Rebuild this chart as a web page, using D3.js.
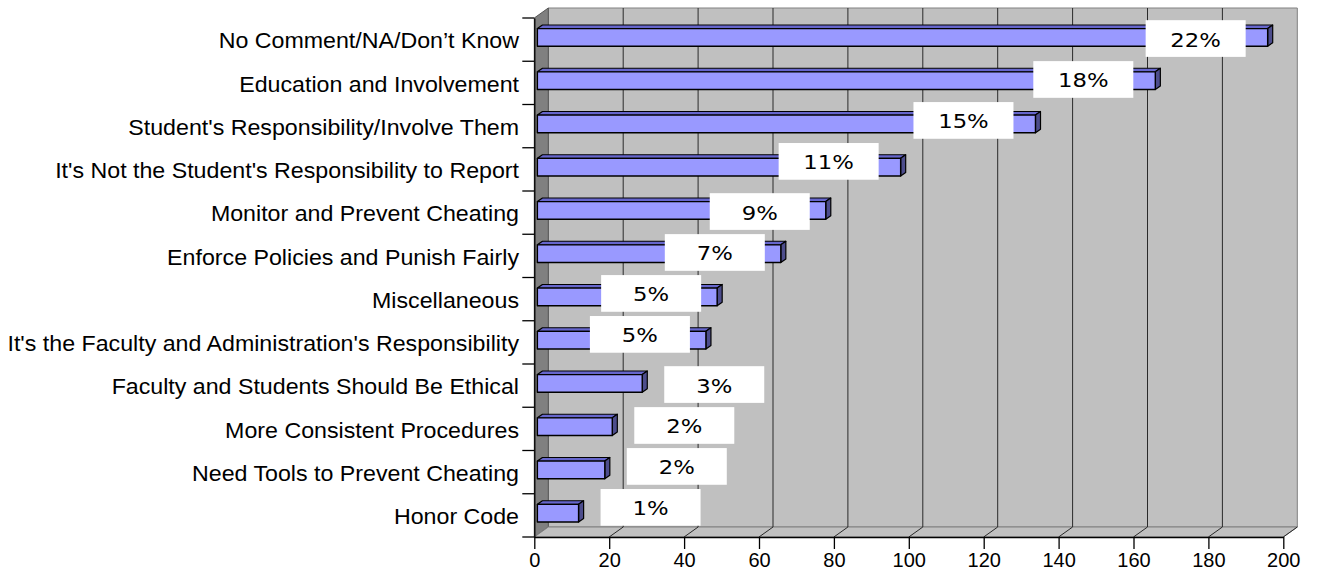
<!DOCTYPE html>
<html>
<head>
<meta charset="utf-8">
<script src="https://cdn.jsdelivr.net/npm/d3@7"></script>
<style>
  html, body { margin: 0; padding: 0; background: #ffffff; }
  svg { display: block; }
</style>
</head>
<body>
<svg id="chart" width="1317" height="575"></svg>
<script>
// ---- data ----
const categories = [
  "No Comment/NA/Don\u2019t Know",
  "Education and Involvement",
  "Student's Responsibility/Involve Them",
  "It's Not the Student's Responsibility to Report",
  "Monitor and Prevent Cheating",
  "Enforce Policies and Punish Fairly",
  "Miscellaneous",
  "It's the Faculty and Administration's Responsibility",
  "Faculty and Students Should Be Ethical",
  "More Consistent Procedures",
  "Need Tools to Prevent Cheating",
  "Honor Code"
];
const values = [195, 165, 133, 97, 77, 65, 48, 45, 28, 20, 18, 11];
const percentLabels = ["22%", "18%", "15%", "11%", "9%", "7%", "5%", "5%", "3%", "2%", "2%", "1%"];
const xTickValues = [0, 20, 40, 60, 80, 100, 120, 140, 160, 180, 200];

(function () {
// ---- layout ----
const svg = d3.select("#chart");
const depthX = 14, depthY = -10;           // wall depth projection
const x = d3.scaleLinear().domain([0, 200]).range([534.3, 1283.3]);
const y = d3.scaleBand().domain(categories).range([18, 537]).paddingInner(0).paddingOuter(0);
const yTop = y.range()[0], yBottom = y.range()[1];
const proj = (px, py, d) => [px + depthX * d, py + depthY * d];

const x0 = x(0), x1 = x(200);

// back wall
svg.append("polygon")
  .attr("points", [proj(x0, yTop, 1), proj(x1, yTop, 1), proj(x1, yBottom, 1), proj(x0, yBottom, 1)].join(" "))
  .attr("fill", "#c0c0c0").attr("stroke", "#808080").attr("stroke-width", 1);
// left wall
svg.append("polygon")
  .attr("points", [[x0, yTop], proj(x0, yTop, 1), proj(x0, yBottom, 1), [x0, yBottom]].join(" "))
  .attr("fill", "#808080").attr("stroke", "#555555").attr("stroke-width", 1);
// floor
svg.append("polygon")
  .attr("points", [[x0, yBottom], proj(x0, yBottom, 1), proj(x1, yBottom, 1), [x1, yBottom]].join(" "))
  .attr("fill", "#c0c0c0").attr("stroke", "#808080").attr("stroke-width", 1);

// gridlines on back wall and floor
const gridG = svg.append("g");
xTickValues.filter(v => v > 0 && v < 200).forEach(v => {
  const [bx, by0] = proj(x(v), yTop, 1);
  const [, by1] = proj(x(v), yBottom, 1);
  gridG.append("line").attr("x1", bx).attr("x2", bx).attr("y1", by0).attr("y2", by1)
    .attr("stroke", "#2a2a2a").attr("stroke-width", 1);
});
xTickValues.filter(v => v > 0).forEach(v => {
  const [bx, by] = proj(x(v), yBottom, 1);
  gridG.append("line").attr("x1", bx).attr("y1", by).attr("x2", x(v)).attr("y2", yBottom)
    .attr("stroke", "#2a2a2a").attr("stroke-width", 1);
});

// bottom axis
const xAxis = d3.axisBottom(x).tickValues(xTickValues).tickSize(12).tickSizeOuter(0).tickPadding(4);
const gx = svg.append("g").attr("transform", `translate(0,${yBottom})`).call(xAxis);
gx.select(".domain").attr("stroke", "#000").attr("stroke-width", 1.3);
gx.selectAll(".tick line").attr("stroke", "#000").attr("stroke-width", 1.3);
gx.selectAll(".tick text").attr("font-family", "'Liberation Sans', Arial, sans-serif")
  .attr("font-size", 20).attr("fill", "#000").attr("dy", "0.72em");

// left axis (category)
const yAxis = d3.axisLeft(y).tickSize(0).tickPadding(0).tickFormat("");
const gy = svg.append("g").attr("transform", `translate(${x0},0)`).call(yAxis);
gy.select(".domain").attr("stroke", "#000").attr("stroke-width", 1.3);
gy.selectAll(".tick").remove();
const boundaries = d3.range(categories.length + 1).map(i => yTop + y.step() * i);
svg.append("g").selectAll("line").data(boundaries).join("line")
  .attr("x1", x0 - 12).attr("x2", x0).attr("y1", d => d).attr("y2", d => d)
  .attr("stroke", "#000").attr("stroke-width", 1.3);

// category labels
svg.append("g").selectAll("text").data(categories).join("text")
  .attr("x", 519)
  .attr("y", d => y(d) + y.bandwidth() / 2 + 8.7)
  .attr("text-anchor", "end")
  .attr("font-family", "'Liberation Sans', Arial, sans-serif")
  .attr("font-size", 22.3)
  .attr("fill", "#000")
  .text(d => d)
  .each(function () {
    const len = this.getComputedTextLength();
    d3.select(this).attr("textLength", len * 1.04).attr("lengthAdjust", "spacingAndGlyphs");
  });

// 3D bars
const barFront = 0.22, barBack = 0.58, barHalf = 8.85;
const barsG = svg.append("g");
values.forEach((v, i) => {
  const cy = y(categories[i]) + y.bandwidth() / 2;
  const yT = cy - barHalf, yB = cy + barHalf;
  const xa = x(0), xb = x(v);
  const F_tl = proj(xa, yT, barFront), F_tr = proj(xb, yT, barFront);
  const F_br = proj(xb, yB, barFront), F_bl = proj(xa, yB, barFront);
  const B_tl = proj(xa, yT, barBack), B_tr = proj(xb, yT, barBack), B_br = proj(xb, yB, barBack);
  barsG.append("polygon").attr("points", [F_tl, B_tl, B_tr, F_tr].join(" "))
    .attr("fill", "#6666cc").attr("stroke", "#000").attr("stroke-width", 1.2).attr("stroke-linejoin", "round");
  barsG.append("polygon").attr("points", [F_tr, B_tr, B_br, F_br].join(" "))
    .attr("fill", "#4d4d8c").attr("stroke", "#000").attr("stroke-width", 1.2).attr("stroke-linejoin", "round");
  barsG.append("polygon").attr("points", [F_tl, F_tr, F_br, F_bl].join(" "))
    .attr("fill", "#9999ff").attr("stroke", "#000").attr("stroke-width", 1.4).attr("stroke-linejoin", "round");
});

// data labels
const labelsG = svg.append("g");
const boxW = 100, boxH = 36.7;
values.forEach((v, i) => {
  const cy = y(categories[i]) + y.bandwidth() / 2 - 1.1 - (i % 4) * 2.3;
  const end = proj(x(v), 0, barFront)[0];
  const cx = v >= 40 ? end - (i < 4 ? 72 : 66) : end + 72;
  labelsG.append("rect").attr("x", cx - boxW / 2).attr("y", cy - boxH / 2)
    .attr("width", boxW).attr("height", boxH).attr("fill", "#ffffff");
  const t = labelsG.append("text")
    .attr("x", cx).attr("y", cy + 8)
    .attr("text-anchor", "middle")
    .attr("font-family", "'DejaVu Sans', Verdana, sans-serif")
    .attr("font-size", 19.3)
    .attr("fill", "#000")
    .text(percentLabels[i]);
  const len = t.node().getComputedTextLength();
  t.attr("textLength", len * 1.18).attr("lengthAdjust", "spacingAndGlyphs");
});
})();
</script>
</body>
</html>
